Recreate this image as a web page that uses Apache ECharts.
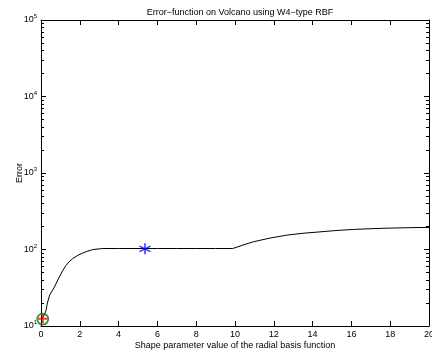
<!DOCTYPE html>
<html>
<head>
<meta charset="utf-8">
<script src="https://cdn.jsdelivr.net/npm/echarts@6/dist/echarts.min.js"></script>
<style>
html, body { margin: 0; padding: 0; background: #fff; }
#chart { width: 432px; height: 356px; }
</style>
</head>
<body>
<div id="chart"></div>
<script>
// error curve
var shapeX = [0.05, 0.15, 0.26, 0.33, 0.45, 0.69, 0.94, 1.12, 1.29, 1.45, 1.63, 1.9, 2.15, 2.4, 2.66, 3.18, 4, 5, 6, 7, 8, 9, 9.88, 10.4, 10.94, 11.8, 12.66, 13.5, 14.38, 15.2, 16.1, 17, 17.82, 18.7, 19.54, 20];
var errorY = [12.3, 13.6, 16, 20, 25.5, 32.3, 43.6, 53, 62, 69, 76, 84, 90, 95, 99.7, 103, 103, 103, 103, 103, 103, 103, 103, 114, 126, 141, 154, 163, 170, 177, 183, 187, 190, 192, 194, 194];
var plusPt = [0.09, 12.4];
var circlePt = [0.09, 12.3];
var starPt = [5.36, 102];
var minorTicks = [20, 30, 40, 50, 60, 70, 80, 90, 200, 300, 400, 500, 600, 700, 800, 900,
	2000, 3000, 4000, 5000, 6000, 7000, 8000, 9000, 20000, 30000, 40000, 50000, 60000, 70000, 80000, 90000];

var curve = [];
for (var i = 0; i < shapeX.length; i++) {
	curve.push([shapeX[i], errorY[i]]);
}

var font = 'Liberation Sans, Arial, Helvetica, sans-serif';
var black = { color: '#000', width: 1 };

function yAxisBox(pos, minor) {
	return {
		type: 'log', logBase: 10, min: 10, max: 100000, position: pos,
		axisLine: { show: !minor, lineStyle: black },
		axisTick: minor ? { show: true, inside: true, length: 3, lineStyle: black, customValues: minorTicks }
			: { show: true, inside: true, length: 5, lineStyle: black },
		axisLabel: { show: false },
		splitLine: { show: false }
	};
}

var mainY = yAxisBox('left', false);
mainY.axisLabel = {
	show: true, margin: 4, fontFamily: font, color: '#000',
	formatter: function(v) {
		var e = Math.round(Math.log(v) / Math.LN10);
		return '{b|10}{e|' + e + '}';
	},
	rich: {
		b: { fontSize: 9, fontFamily: font, color: '#000' },
		e: { fontSize: 6, fontFamily: font, color: '#000', padding: [0, 0, 7, 0] }
	}
};
mainY.name = 'Error';
mainY.nameLocation = 'middle';
mainY.nameGap = 17;
mainY.nameMoveOverlap = false;
mainY.nameTextStyle = { fontSize: 9, fontFamily: font, color: '#000' };

var chart = echarts.init(document.getElementById('chart'));
var option = {
	animation: false,
	title: {
		text: 'Error\u2212function on Volcano using W4\u2212type RBF',
		left: 235, top: 3, textAlign: 'center',
		textStyle: { fontSize: 9, fontWeight: 'normal', fontFamily: font, color: '#000' }
	},
	grid: { left: 41, right: 3, top: 20, bottom: 30, containLabel: false, outerBoundsMode: 'none' },
	xAxis: [{
		type: 'value', min: 0, max: 20, interval: 2, position: 'bottom',
		axisLine: { show: true, lineStyle: black },
		axisTick: { show: true, inside: true, length: 5, lineStyle: black },
		axisLabel: { show: true, margin: 4, fontSize: 9, fontFamily: font, color: '#000' },
		splitLine: { show: false },
		name: 'Shape parameter value of the radial basis function',
		nameLocation: 'middle', nameGap: 15, nameMoveOverlap: false,
		nameTextStyle: { fontSize: 9, fontFamily: font, color: '#000' }
	}, {
		type: 'value', min: 0, max: 20, interval: 2, position: 'top',
		axisLine: { show: true, lineStyle: black },
		axisTick: { show: true, inside: true, length: 5, lineStyle: black },
		axisLabel: { show: false },
		splitLine: { show: false }
	}],
	yAxis: [mainY, yAxisBox('left', true), yAxisBox('right', false), yAxisBox('right', true)],
	series: [{
		type: 'line', data: curve, showSymbol: false, symbol: 'none',
		lineStyle: { color: '#000', width: 1 }, z: 2
	}, {
		type: 'scatter', data: [circlePt], symbol: 'circle', symbolSize: 11,
		itemStyle: { color: 'none', borderColor: '#008000', borderWidth: 1.8 }, z: 3
	}, {
		type: 'scatter', data: [plusPt], symbol: 'path://M-5,0L5,0M0,-5L0,5', symbolSize: 9,
		itemStyle: { color: 'none', borderColor: '#ff0000', borderWidth: 2 }, z: 4
	}, {
		type: 'scatter', data: [starPt], symbol: 'path://M0,-5L0,5M-4.33,-2.5L4.33,2.5M-4.33,2.5L4.33,-2.5', symbolSize: 11,
		itemStyle: { color: 'none', borderColor: '#0000ff', borderWidth: 1.5 }, z: 4
	}]
};
chart.setOption(option);
</script>
</body>
</html>
